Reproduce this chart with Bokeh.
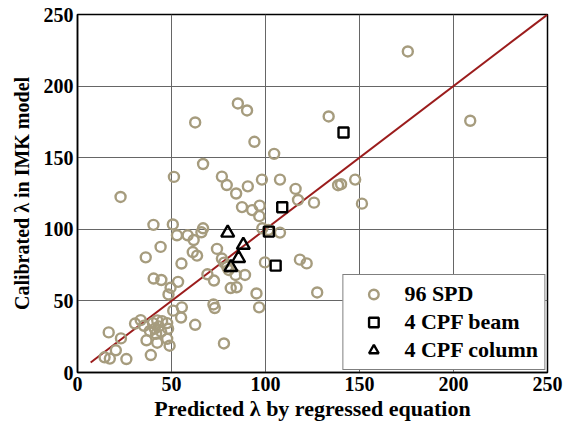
from bokeh.plotting import figure
from bokeh.models import Range1d, Legend, LegendItem, FixedTicker
from bokeh.embed import file_html
from bokeh.resources import INLINE

# 96 SPD points
spd_x = [175.7, 208.9, 85.3, 90.2, 62.6, 133.6, 94.1, 104.6, 66.8, 51.3, 76.8, 79.4, 98.1, 90.6, 107.7, 84.4,
         22.9, 116.0, 117.3, 125.8, 138.6, 140.2, 147.7, 151.3,
         87.5, 92.9, 96.9, 96.7, 98.3, 101.5, 107.7,
         40.4, 50.7, 52.9, 58.6, 61.8, 66.8, 65.9,
         44.2, 74.2, 61.3, 63.6, 36.3, 55.3, 76.8, 78.0, 79.6, 80.4, 84.1, 89.1, 69.1, 72.6, 99.7, 118.3, 121.9,
         40.5, 44.6, 53.5, 49.5, 48.4, 81.5, 84.6, 127.5, 95.2, 96.6, 72.3, 73.0, 50.9, 55.5, 55.1, 62.6, 77.9,
         16.6, 23.1, 20.4, 14.4, 17.2, 26.0, 39.0,
         30.6, 33.6, 35.4, 36.7, 40.1, 42.4, 45.0, 47.7, 41.1, 43.3, 48.2, 41.8, 42.4, 47.7, 49.0, 38.5, 44.5]
spd_y = [224.2, 175.8, 187.9, 183.0, 174.6, 178.8, 161.1, 152.7, 145.6, 136.6, 136.8, 130.9, 134.7, 130.0, 134.7, 125.0,
         122.6, 128.2, 120.5, 118.6, 130.8, 131.5, 134.7, 117.9,
         115.5, 113.4, 116.5, 109.2, 100.7, 99.5, 97.7,
         103.1, 103.4, 95.8, 95.8, 92.5, 100.7, 97.9,
         87.7, 86.3, 84.1, 81.6, 80.4, 76.1, 79.6, 76.7, 73.8, 71.6, 68.1, 68.1, 68.6, 64.2, 76.9, 78.8, 76.2,
         65.6, 64.6, 63.3, 59.2, 54.5, 59.0, 59.5, 55.9, 55.2, 45.5, 47.5, 45.0, 43.2, 45.5, 38.4, 33.3, 20.3,
         28.0, 23.8, 15.5, 10.6, 9.7, 9.4, 12.2,
         34.2, 36.6, 32.6, 22.5, 34.5, 36.4, 35.9, 34.5, 30.6, 32.2, 30.6, 27.0, 20.8, 23.5, 18.7, 29.0, 28.5]

# 4 CPF beam
beam_x = [141.5, 108.9, 101.8, 105.4]
beam_y = [167.6, 115.4, 98.4, 74.6]

# 4 CPF column
col_x = [79.9, 88.2, 85.7, 81.6]
col_y = [97.5, 89.0, 79.8, 73.5]

# 1:1 line
line_x = [7, 250]
line_y = [7, 250]

ticks = [0, 50, 100, 150, 200, 250]
FONT = "Liberation Serif"

p = figure(width=564, height=429, output_backend="svg", toolbar_location=None,
           x_range=Range1d(0, 250), y_range=Range1d(0, 250),
           min_border_left=77, min_border_right=17, min_border_top=14, min_border_bottom=57)

p.outline_line_color = "black"
p.outline_line_width = 1.5
p.background_fill_color = "white"
p.border_fill_color = "white"

p.xaxis.ticker = FixedTicker(ticks=ticks)
p.yaxis.ticker = FixedTicker(ticks=ticks)
for ax in (p.xaxis[0], p.yaxis[0]):
    ax.major_label_text_font = FONT
    ax.major_label_text_font_style = "bold"
    ax.major_label_text_font_size = "20px"
    ax.major_label_text_color = "black"
    ax.axis_label_text_font = FONT
    ax.axis_label_text_font_style = "bold"
    ax.axis_label_text_color = "black"
    ax.axis_line_color = "black"
    ax.axis_line_width = 1.5
    ax.major_tick_in = 0
    ax.major_tick_out = 0
    ax.minor_tick_line_color = None
    ax.major_label_standoff = 4

p.xaxis.axis_label = "Predicted λ by regressed equation"
p.yaxis.axis_label = "Calibrated λ in IMK model"
p.xaxis.axis_label_text_font_size = "22px"
p.yaxis.axis_label_text_font_size = "20px"
p.xaxis.axis_label_standoff = 2
p.yaxis.axis_label_standoff = 8

# dotted black grid in the reference reads as a dark grey line
p.xgrid.grid_line_color = "#666666"
p.ygrid.grid_line_color = "#666666"
p.xgrid.grid_line_width = 1
p.ygrid.grid_line_width = 1
p.xgrid.grid_line_alpha = 1.0
p.ygrid.grid_line_alpha = 1.0

p.line(line_x, line_y, line_color="#9B1C1C", line_width=2)

r_spd = p.scatter(spd_x, spd_y, marker="circle", size=10, fill_color=None,
                  line_color="#A69C7E", line_width=2.4)
r_beam = p.scatter(beam_x, beam_y, marker="square", size=10, fill_color=None,
                   line_color="black", line_width=2.4)
r_col = p.scatter(col_x, col_y, marker="triangle", size=13, fill_color=None,
                  line_color="black", line_width=2.4)

legend = Legend(items=[LegendItem(label="96 SPD", renderers=[r_spd]),
                       LegendItem(label="4 CPF beam", renderers=[r_beam]),
                       LegendItem(label="4 CPF column", renderers=[r_col])],
                location="bottom_right")
legend.margin = 2
legend.padding = 6
legend.spacing = 2
legend.glyph_width = 48
legend.glyph_height = 24
legend.label_height = 24
legend.label_standoff = 7
legend.label_text_font = FONT
legend.label_text_font_style = "bold"
legend.label_text_font_size = "22px"
legend.label_text_color = "black"
legend.border_line_color = "black"
legend.border_line_width = 1.5
legend.background_fill_color = "white"
legend.background_fill_alpha = 1
p.add_layout(legend, "center")

open("out.html", "w").write(file_html(p, INLINE))
